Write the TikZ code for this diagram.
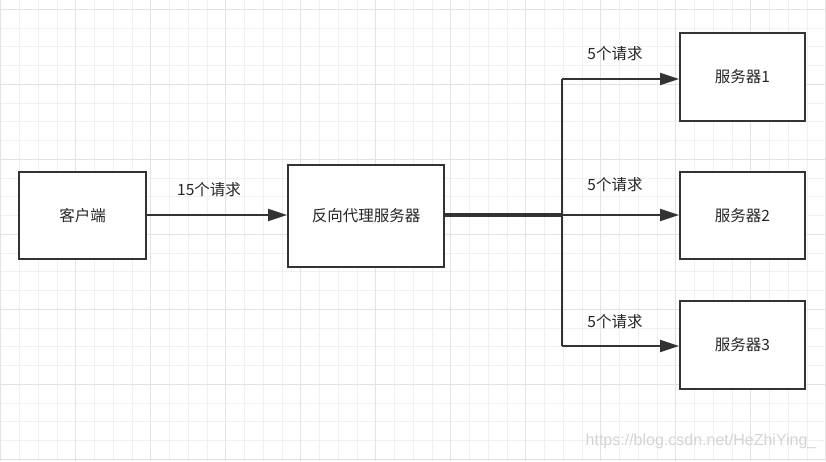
\documentclass[tikz,border=0pt]{standalone}
\usepackage{fontspec}
\setmainfont{Noto Sans CJK SC}
\usetikzlibrary{arrows.meta}
\begin{document}
\begin{tikzpicture}[x=1pt,y=-1pt,
  box/.style={draw=black!80,line width=2pt,fill=white,minimum width=#1,inner sep=0pt,font=\fontsize{15.5}{18}\selectfont,text=black!85},
  conn/.style={draw=black!80,line width=2pt},
  arr/.style={conn,-{Triangle[length=19pt,width=12pt]}},
  lbl/.style={font=\fontsize{15.5}{18}\selectfont,text=black!85,inner sep=0pt}]
\useasboundingbox (0,0) rectangle (826,461);
\fill[white] (0,0) rectangle (826,461);
% grid
\foreach \i in {0,...,44}{
  \pgfmathsetmacro\xx{0.7+18.75*\i}
  \draw[black!6,line width=0.8pt] (\xx,0) -- (\xx,461);
}
\foreach \i in {0,...,24}{
  \pgfmathsetmacro\yy{9.3+18.75*\i}
  \draw[black!6,line width=0.8pt] (0,\yy) -- (826,\yy);
}
\foreach \i in {0,...,11}{
  \pgfmathsetmacro\xx{0.7+75*\i}
  \draw[black!11,line width=0.9pt] (\xx,0) -- (\xx,461);
}
\foreach \i in {0,...,6}{
  \pgfmathsetmacro\yy{9.3+75*\i}
  \draw[black!11,line width=0.9pt] (0,\yy) -- (826,\yy);
}
% nodes
\node[box=127pt,minimum height=87pt] (client) at (82.5,215.5) {客户端};
\node[box=156pt,minimum height=102pt] (proxy) at (366,216) {反向代理服务器};
\node[box=125pt,minimum height=88pt] (s1) at (742.5,77) {服务器1};
\node[box=125pt,minimum height=87pt] (s2) at (742.5,215.5) {服务器2};
\node[box=125pt,minimum height=88pt] (s3) at (742.5,345) {服务器3};
\coordinate (split) at (562,215);
\coordinate (top) at (562,79);
\coordinate (bot) at (562,346);
% connectors
\draw[arr] (client.east |- 0,215) -- (proxy.west |- 0,215);
\draw[conn,line width=3.5pt] (proxy.east |- 0,215) -- (split);
\draw[conn] (top) -- (bot);
\draw[arr] (top) -- (s1.west |- top);
\draw[arr] (split) -- (s2.west |- split);
\draw[arr] (bot) -- (s3.west |- bot);
% labels
\node[lbl] (l0) at (209,190) {15个请求};
\node[lbl] (l1) at (615,54) {5个请求};
\node[lbl] (l2) at (615,185) {5个请求};
\node[lbl] (l3) at (615,322) {5个请求};
\node[font=\fontspec{Liberation Sans}\fontsize{16}{18}\selectfont,text=black!17,inner sep=0pt] (wm) at (701,441) {https://blog.csdn.net/HeZhiYing\_};
\end{tikzpicture}
\end{document}
